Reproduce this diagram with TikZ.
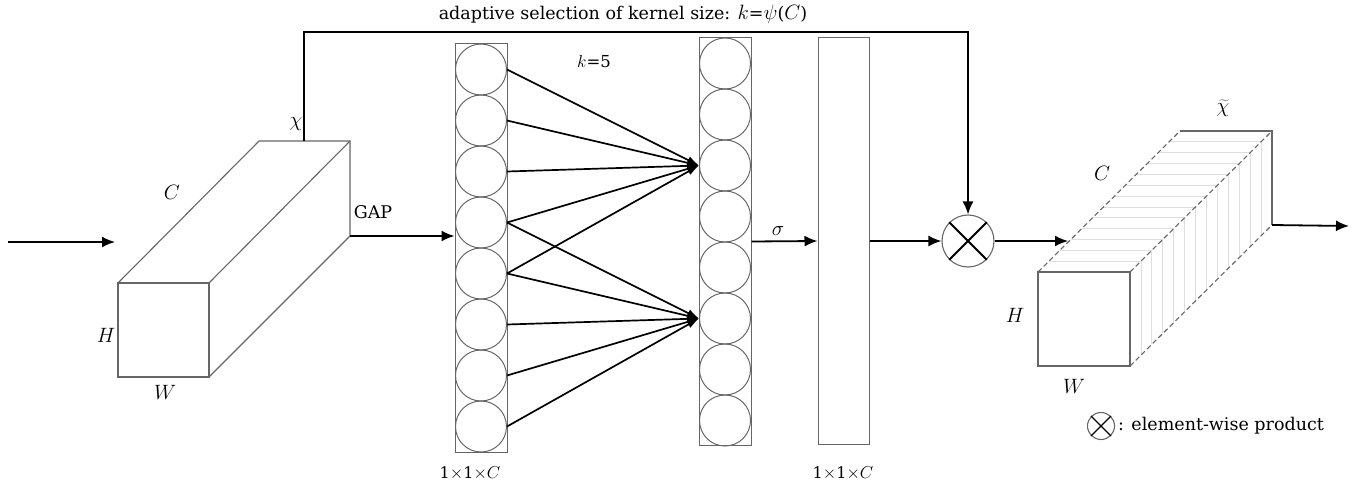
\documentclass[tikz,border=0pt]{standalone}
\usepackage{fontspec}
\setmainfont{DejaVu Serif}
\usetikzlibrary{arrows.meta,calc}
\begin{document}
\begin{tikzpicture}[x=1pt,y=-1pt,
  edge/.style={draw=black!60, line width=1.1pt},
  slice/.style={draw=black!13, line width=0.8pt},
  conn/.style={line width=1.8pt, -{Latex[length=13pt,width=11pt]}},
  fan/.style={line width=1.7pt, -{Latex[length=12pt,width=8pt]}},
  cell/.style={circle, draw=black!60, line width=1pt, minimum size=51pt, inner sep=0pt},
  column/.style={rectangle, draw=black!60, line width=1pt, minimum width=52pt, inner sep=0pt},
  lbl/.style={font=\fontsize{16}{19}\selectfont, inner sep=0pt},
  big/.style={font=\fontsize{17.5}{21}\selectfont, inner sep=0pt},
  dim/.style={font=\fontsize{21}{24}\selectfont, inner sep=0pt},
  mult/.style={circle, draw=black!60, line width=1.1pt, inner sep=0pt}]
\useasboundingbox (0,0) rectangle (1357,487);

% ---- input feature map (left cuboid) ----
\coordinate (aFTL) at (118,283); \coordinate (aFTR) at (209,283);
\coordinate (aFBR) at (209,377); \coordinate (aFBL) at (118,377);
\coordinate (aBTL) at (259,141); \coordinate (aBTR) at (350,141);
\coordinate (aBBR) at (350,236);
\draw[edge] (aFTL) rectangle (aFBR);
\draw[edge] (aFTL) -- (aBTL) -- (aBTR) -- (aBBR) -- (aFBR);
\draw[edge] (aFTR) -- (aBTR);
\node[dim] at (172,192) {$C$};
\node[dim] at (106,335) {$H$};
\node[dim] at (165,392) {$W$};
\node[dim] at (296,124) {$\chi$};
\coordinate (chi) at (304,141);
\coordinate (top) at (304,32);

% ---- input arrow ----
\coordinate (inStart) at (8,242);
\coordinate (inEnd) at (115,242);
\draw[conn] (inStart) -- (inEnd);

% ---- pooled vector ----
\node[column, minimum height=408pt] (col1) at (481,248) {};
\foreach \i in {1,...,8}
  \node[cell] (a\i) at (481,{69.5+51*(\i-1)}) {};
\node[lbl] at (470,473) {1$\times$1$\times$\fontsize{18}{21}\selectfont$C$};

% ---- GAP ----
\coordinate (gapSrc) at (350,236);
\draw[conn] (gapSrc) -- (col1.west |- gapSrc);
\node[big] at (373,212) {GAP};

% ---- 1D convolution output ----
\node[column, minimum height=408pt] (col2) at (725,241.5) {};
\foreach \i in {1,...,8}
  \node[cell] (b\i) at (725,{63.5+51*(\i-1)}) {};
\node[lbl] at (594,62) {\fontsize{19}{22}\selectfont$k$\fontsize{16.5}{19}\selectfont=5};

% ---- kernel connections ----
\foreach \i in {1,...,5}
  \draw[fan] (a\i.east) -- (b3.west);
\foreach \i in {4,...,8}
  \draw[fan] (a\i.east) -- (b6.west);

% ---- attention weights ----
\node[column, minimum width=51pt, minimum height=406pt] (col3) at (843.5,241) {};
\node[lbl] at (843,473) {1$\times$1$\times$\fontsize{18}{21}\selectfont$C$};
\draw[conn] (col2.east) -- (col3.west);
\node[dim] at (778,231) {$\sigma$};

% ---- element-wise product ----
\node[mult, minimum size=52pt] (mul) at (968,241) {};
\draw[line width=1.8pt] (mul.45) -- (mul.225) (mul.135) -- (mul.315);
\draw[conn] (col3.east) -- (mul.west);
\draw[conn] (chi) -- (top) -| (mul.north);
\node[big] at (623,14) {adaptive selection of kernel size: {\fontsize{19.5}{22}\selectfont$k$}={\fontsize{19.5}{22}\selectfont$\psi$}({\fontsize{19.5}{22}\selectfont$C$})};

% ---- output feature map (right cuboid) ----
\coordinate (bFTL) at (1038,272); \coordinate (bFTR) at (1130,272);
\coordinate (bFBR) at (1130,366);
\coordinate (bBTL) at (1180,131); \coordinate (bBTR) at (1272,131);
\coordinate (bBBR) at (1272,225);
\foreach \t in {1,...,12} {
  \draw[slice] ($(bFTL)!\t/13!(bBTL)$) -- ($(bFTR)!\t/13!(bBTR)$);
  \draw[slice] ($(bFTR)!\t/13!(bBTR)$) -- ($(bFBR)!\t/13!(bBBR)$);
}
\draw[edge] (bFTL) rectangle (bFBR);
\draw[edge, dash pattern=on 5pt off 3pt] (bFTL) -- (bBTL);
\draw[edge, dash pattern=on 5pt off 3pt] (bFTR) -- (bBTR);
\draw[edge, dash pattern=on 5pt off 3pt] (bFBR) -- (bBBR);
\draw[edge] (bBTL) -- (bBTR) -- (bBBR);
\node[dim] at (1102,173) {$C$};
\node[dim] at (1015,315) {$H$};
\node[dim] at (1074,386) {$W$};
\node[dim] at (1223,108) {$\widetilde{\chi}$};

\coordinate (prodIn) at (1068,241);
\draw[conn] (mul.east) -- (prodIn);
\coordinate (outEnd) at (1349,226);
\draw[conn] (bBBR) -- (outEnd);

% ---- legend ----
\node[mult, minimum size=27pt] (leg) at (1101,426) {};
\draw[line width=1.3pt] (leg.45) -- (leg.225) (leg.135) -- (leg.315);
\node[big, anchor=west] (legText) at (leg.east) {\,: element-wise product};
\end{tikzpicture}
\end{document}
